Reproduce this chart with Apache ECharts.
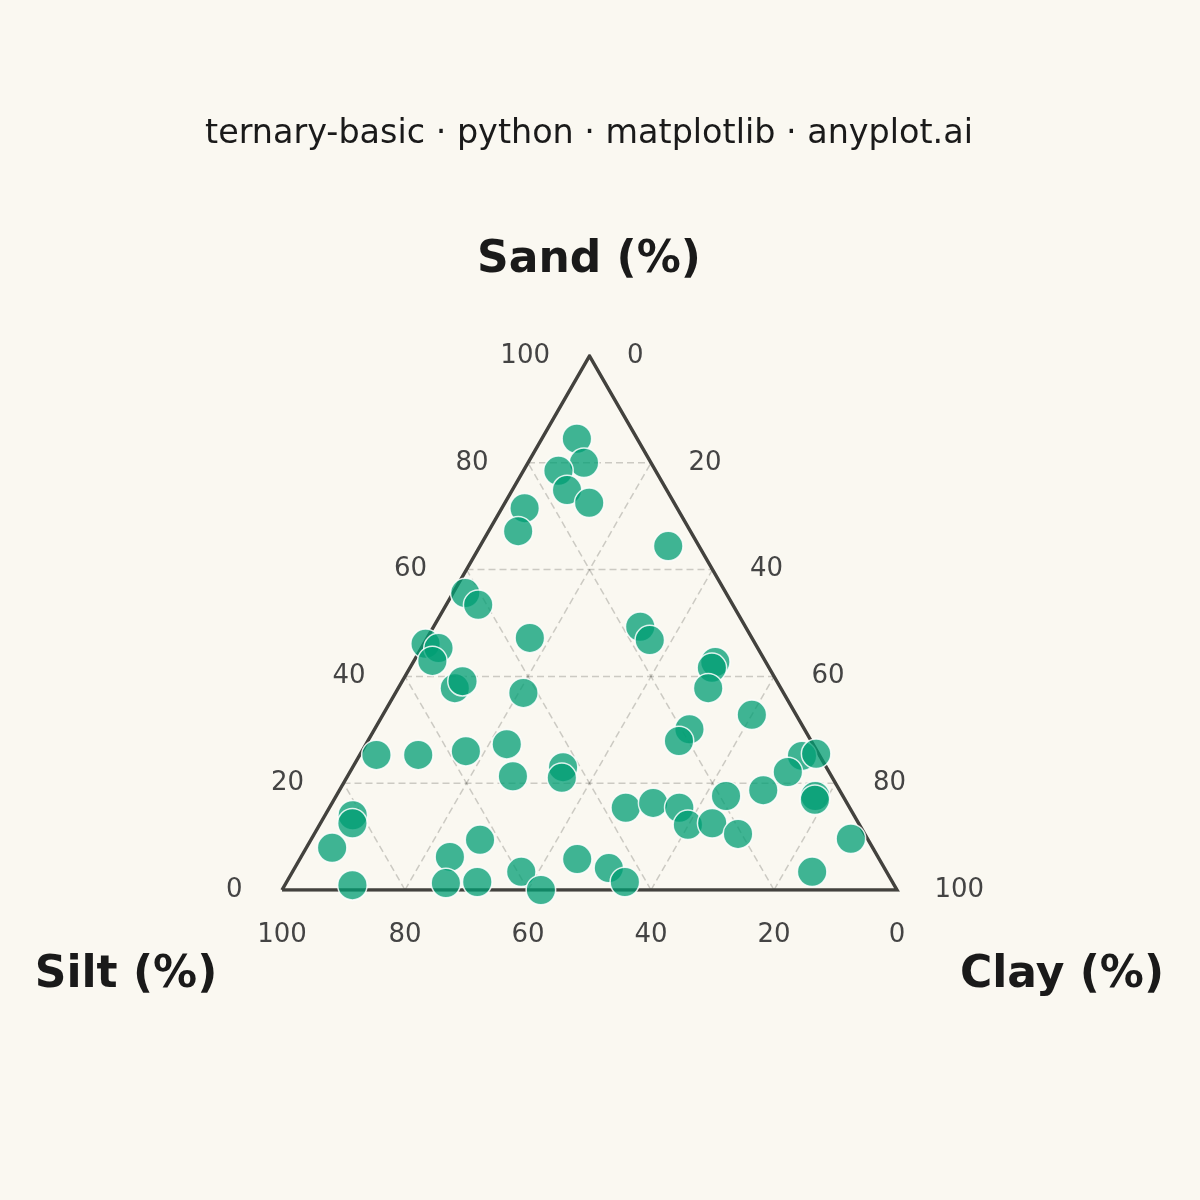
<!DOCTYPE html>
<html><head><meta charset="utf-8">
<script src="https://cdn.jsdelivr.net/npm/echarts@6/dist/echarts.min.js"></script>
<style>html,body{margin:0;padding:0;background:#FAF8F1}#c{width:1200px;height:1200px}</style>
</head><body><div id="c"></div>
<script>
// Soil composition samples (percent)
const sand = [84.5,80.0,78.5,74.9,72.5,71.5,67.2,64.4,55.6,53.4,46.1,45.3,42.9,47.2,37.8,39.1,36.9,49.3,46.8,42.7,41.6,37.8,32.8,30.1,27.9,25.1,25.5,22.1,25.3,25.3,26.0,27.3,21.3,23.0,21.0,14.0,12.5,7.9,0.9,6.2,9.4,1.3,1.5,3.4,0.0,5.8,17.6,16.9,18.7,17.6,15.4,16.3,15.4,12.2,12.5,10.5,9.6,3.4,4.1,1.5];
const silt = [9.8,10.9,15.8,16.2,13.8,24.8,28.0,5.0,42.4,41.4,53.6,51.9,54.1,36.1,53.0,51.1,42.3,17.1,16.8,8.2,9.3,11.8,7.2,18.7,21.5,2.9,0.4,6.7,72.0,65.2,57.1,49.8,51.8,42.8,44.0,81.5,82.3,87.9,88.1,69.6,63.1,72.7,67.5,59.4,57.9,49.1,4.5,4.9,12.4,19.0,36.4,31.5,27.7,27.9,23.8,20.6,2.7,12.1,44.8,43.5];
const clay = [5.7,9.1,5.7,8.9,13.7,3.7,4.8,30.6,2.0,5.2,0.3,2.8,3.0,16.7,9.2,9.8,20.8,33.6,36.4,49.1,49.1,50.4,60.0,51.2,50.6,72.0,74.1,71.2,2.7,9.5,16.9,22.9,26.9,34.2,35.0,4.5,5.2,4.2,11.0,24.2,27.5,26.0,31.0,37.2,42.1,45.1,77.9,78.2,68.9,63.4,48.2,52.2,56.9,59.9,63.7,68.9,87.7,84.5,51.1,55.0];
const tickValues = [0,20,40,60,80,100];
const gridValues = [20,40,60,80];
const titleText = 'ternary-basic · python · matplotlib · anyplot.ai';
const axisNames = {sand:'Sand (%)', silt:'Silt (%)', clay:'Clay (%)'};

// ternary -> cartesian (x: clay + sand/2, y: sand), both 0..100
function tern(s, si, c){ const t = s + si + c; const S = s/t*100, C = c/t*100; return [C + S/2, S]; }

const FONT = 'DejaVu Sans';
const series = [];

// grid lines
const gridStyle = {color:'rgba(60,60,50,0.24)', width:1.5, type:[7,4]};
gridValues.forEach(v => {
  series.push({type:'line', data:[tern(v,100-v,0), tern(v,0,100-v)]});   // sand = v
  series.push({type:'line', data:[tern(0,100-v,v), tern(100-v,0,v)]});   // clay = v
  series.push({type:'line', data:[tern(0,v,100-v), tern(100-v,v,0)]});   // silt = v
});
series.forEach(s => { Object.assign(s, {symbol:'none', silent:true, animation:false, lineStyle:gridStyle, z:1}); });

// triangle outline
series.push({type:'line', symbol:'none', silent:true, animation:false, z:2,
  data:[tern(0,100,0), tern(0,0,100), tern(100,0,0), tern(0,100,0)],
  lineStyle:{color:'#43423e', width:3.5, join:'miter'}});

// tick labels
const tickLabel = {color:'#444444', fontSize:26, fontFamily:FONT, formatter: p => p.value[2]};
const tickItem = {color:'rgba(0,0,0,0)', opacity:1};
series.push({type:'scatter', symbolSize:1, silent:true, animation:false, itemStyle:tickItem,
  data: tickValues.map(t => [...tern(t,100-t,0), t]),
  label:{show:true, position:'left', distance:39, ...tickLabel}});
series.push({type:'scatter', symbolSize:1, silent:true, animation:false, itemStyle:tickItem,
  data: tickValues.map(t => [...tern(100-t,0,t), t]),
  label:{show:true, position:'right', distance:37, ...tickLabel}});
series.push({type:'scatter', symbolSize:1, silent:true, animation:false, itemStyle:tickItem,
  data: tickValues.map(t => [...tern(0,t,100-t), t]),
  label:{show:true, position:'bottom', distance:32, ...tickLabel}});

// samples
series.push({type:'scatter', z:5, animation:false, symbolSize:29.5,
  data: sand.map((s,i) => tern(s, silt[i], clay[i])),
  itemStyle:{color:'rgba(0,158,115,0.75)', opacity:1, borderColor:'rgba(255,255,255,0.85)', borderWidth:1.5}});

const chart = echarts.init(document.getElementById('c'), null, {renderer:'canvas'});
chart.setOption({
  backgroundColor:'#FAF8F1',
  animation:false,
  grid:{left:282, top:356, width:615, height:534, containLabel:false},
  xAxis:{type:'value', min:0, max:100, show:false},
  yAxis:{type:'value', min:0, max:100, show:false},
  graphic:[
    {type:'text', x:589, y:134, style:{text:titleText, textAlign:'center', textVerticalAlign:'middle', fontSize:33.4, fontFamily:FONT, fill:'#1a1a1a'}},
    {type:'text', x:589, y:261, style:{text:axisNames.sand, textAlign:'center', textVerticalAlign:'middle', fontSize:44, fontWeight:'bold', fontFamily:FONT, fill:'#1a1a1a'}},
    {type:'text', x:126, y:976, style:{text:axisNames.silt, textAlign:'center', textVerticalAlign:'middle', fontSize:44, fontWeight:'bold', fontFamily:FONT, fill:'#1a1a1a'}},
    {type:'text', x:1062, y:976, style:{text:axisNames.clay, textAlign:'center', textVerticalAlign:'middle', fontSize:44, fontWeight:'bold', fontFamily:FONT, fill:'#1a1a1a'}}
  ],
  series
});
</script></body></html>
